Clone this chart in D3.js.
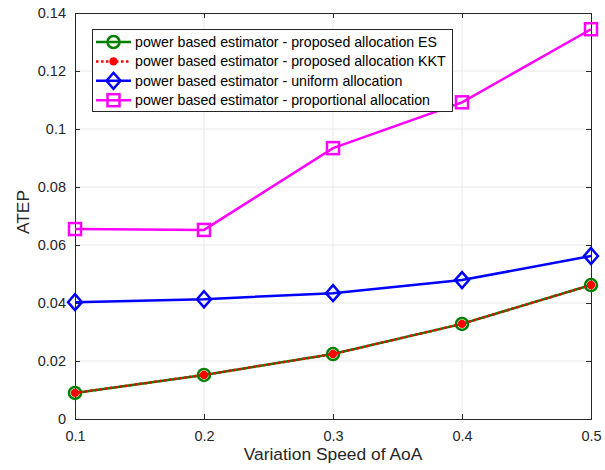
<!DOCTYPE html>
<html>
<head>
<meta charset="utf-8">
<script src="https://cdn.jsdelivr.net/npm/d3@7"></script>
<style>
  body { margin: 0; background: #fff; }
  svg { display: block; font-family: "Liberation Sans", Arial, Helvetica, sans-serif; }
</style>
</head>
<body>
<svg id="chart" width="605" height="470"></svg>
<script>
// Variation speed of the angle of arrival (x axis)
const speeds = [0.1, 0.2, 0.3, 0.4, 0.5];

// ATEP for each estimator / allocation scheme
const esValues   = [0.0090, 0.0152, 0.0224, 0.0328, 0.0462];
const kktValues  = [0.0090, 0.0152, 0.0224, 0.0328, 0.0462];
const uniValues  = [0.0403, 0.0413, 0.0434, 0.0479, 0.0562];
const propValues = [0.0655, 0.0652, 0.0934, 0.1092, 0.1344];

const seriesNames = [
  "power based estimator - proposed allocation ES",
  "power based estimator - proposed allocation KKT",
  "power based estimator - uniform allocation",
  "power based estimator - proportional allocation"
];

const xTicks = [0.1, 0.2, 0.3, 0.4, 0.5];
const yTicks = [0, 0.02, 0.04, 0.06, 0.08, 0.1, 0.12, 0.14];

const svg = d3.select("#chart");
const plotLeft = 75, plotRight = 591, plotTop = 13, plotBottom = 419;
const axisColor = "#262626";
const gridColor = "#e8e8e8";

const x = d3.scaleLinear().domain([0.1, 0.5]).range([plotLeft, plotRight]);
const y = d3.scaleLinear().domain([0, 0.14]).range([plotBottom, plotTop]);

// grid
const grid = svg.append("g");
grid.selectAll("line.gx").data(xTicks.slice(1, -1)).join("line")
  .attr("x1", d => x(d)).attr("x2", d => x(d))
  .attr("y1", plotTop).attr("y2", plotBottom)
  .attr("stroke", gridColor).attr("stroke-width", 1);
grid.selectAll("line.gy").data(yTicks.slice(1, -1)).join("line")
  .attr("x1", plotLeft).attr("x2", plotRight)
  .attr("y1", d => y(d)).attr("y2", d => y(d))
  .attr("stroke", gridColor).attr("stroke-width", 1);

// axes (ticks pointing inward, mirrored on top/right)
const fmt = d => d === 0 ? "0" : String(+d.toFixed(2));
const xAxis = d3.axisBottom(x).tickValues(xTicks).tickSize(-5).tickPadding(12).tickFormat(fmt);
const yAxis = d3.axisLeft(y).tickValues(yTicks).tickSize(-5).tickPadding(9).tickFormat(fmt);
const xTop = d3.axisTop(x).tickValues(xTicks).tickSize(-5).tickFormat("");
const yRight = d3.axisRight(y).tickValues(yTicks).tickSize(-5).tickFormat("");

function styleAxis(g) {
  g.select(".domain").attr("stroke", axisColor).attr("stroke-width", 1);
  g.selectAll(".tick line").attr("stroke", axisColor);
  g.selectAll(".tick text").attr("fill", axisColor).attr("font-size", 14.5)
    .attr("font-family", "Liberation Sans, Arial, sans-serif");
}
svg.append("g").attr("transform", `translate(0,${plotBottom})`).call(xAxis).call(styleAxis);
svg.append("g").attr("transform", `translate(${plotLeft},0)`).call(yAxis).call(styleAxis);
svg.append("g").attr("transform", `translate(0,${plotTop})`).call(xTop).call(styleAxis);
svg.append("g").attr("transform", `translate(${plotRight},0)`).call(yRight).call(styleAxis);

// axis titles
svg.append("text").attr("x", (plotLeft + plotRight) / 2).attr("y", 460)
  .attr("text-anchor", "middle").attr("font-size", 17.4).attr("fill", axisColor)
  .text("Variation Speed of AoA");
svg.append("text").attr("transform", `translate(29,212) rotate(-90)`)
  .attr("text-anchor", "middle").attr("font-size", 17.4).attr("fill", axisColor)
  .text("ATEP");

const line = d3.line().x((d, i) => x(speeds[i])).y(d => y(d));
const plot = svg.append("g");

// marker drawers
const markers = {
  circle: (g, cx, cy, color) => g.append("circle").attr("cx", cx).attr("cy", cy).attr("r", 6)
    .attr("fill", "none").attr("stroke", color).attr("stroke-width", 2.5),
  dot: (g, cx, cy, color) => g.append("circle").attr("cx", cx).attr("cy", cy).attr("r", 4.2)
    .attr("fill", color),
  diamond: (g, cx, cy, color) => g.append("path")
    .attr("d", `M${cx},${cy - 8}L${cx + 7},${cy}L${cx},${cy + 8}L${cx - 7},${cy}Z`)
    .attr("fill", "none").attr("stroke", color).attr("stroke-width", 2.5),
  square: (g, cx, cy, color) => g.append("rect").attr("x", cx - 6).attr("y", cy - 6)
    .attr("width", 12).attr("height", 12)
    .attr("fill", "none").attr("stroke", color).attr("stroke-width", 2.5)
};

const series = [
  { values: propValues, color: "#ff00ff", dash: null, marker: "square" },
  { values: uniValues, color: "#0000ff", dash: null, marker: "diamond" },
  { values: esValues, color: "#008000", dash: null, marker: "circle" },
  { values: kktValues, color: "#ff0000", dash: "2.5,2.5", marker: "dot" }
];

series.forEach(s => {
  plot.append("path").datum(s.values).attr("d", line)
    .attr("fill", "none").attr("stroke", s.color).attr("stroke-width", 2.5)
    .attr("stroke-dasharray", s.dash);
  s.values.forEach((v, i) => markers[s.marker](plot, x(speeds[i]), y(v), s.color));
});

// legend
const legendItems = [
  { name: seriesNames[0], color: "#008000", dash: null, marker: "circle" },
  { name: seriesNames[1], color: "#ff0000", dash: "2.5,2.5", marker: "dot" },
  { name: seriesNames[2], color: "#0000ff", dash: null, marker: "diamond" },
  { name: seriesNames[3], color: "#ff00ff", dash: null, marker: "square" }
];
const lg = svg.append("g");
lg.append("rect").attr("x", 92.5).attr("y", 29.5).attr("width", 360).attr("height", 82)
  .attr("fill", "#fff").attr("stroke", axisColor).attr("stroke-width", 1);
legendItems.forEach((it, i) => {
  const cy = 42 + i * 19.4;
  lg.append("line").attr("x1", 96).attr("x2", 131).attr("y1", cy).attr("y2", cy)
    .attr("stroke", it.color).attr("stroke-width", 2.5).attr("stroke-dasharray", it.dash);
  markers[it.marker](lg, 113.5, cy, it.color);
  lg.append("text").attr("x", 135).attr("y", cy).attr("dy", "0.35em")
    .attr("font-size", 14.2).attr("fill", "#000").text(it.name);
});
</script>
</body>
</html>
